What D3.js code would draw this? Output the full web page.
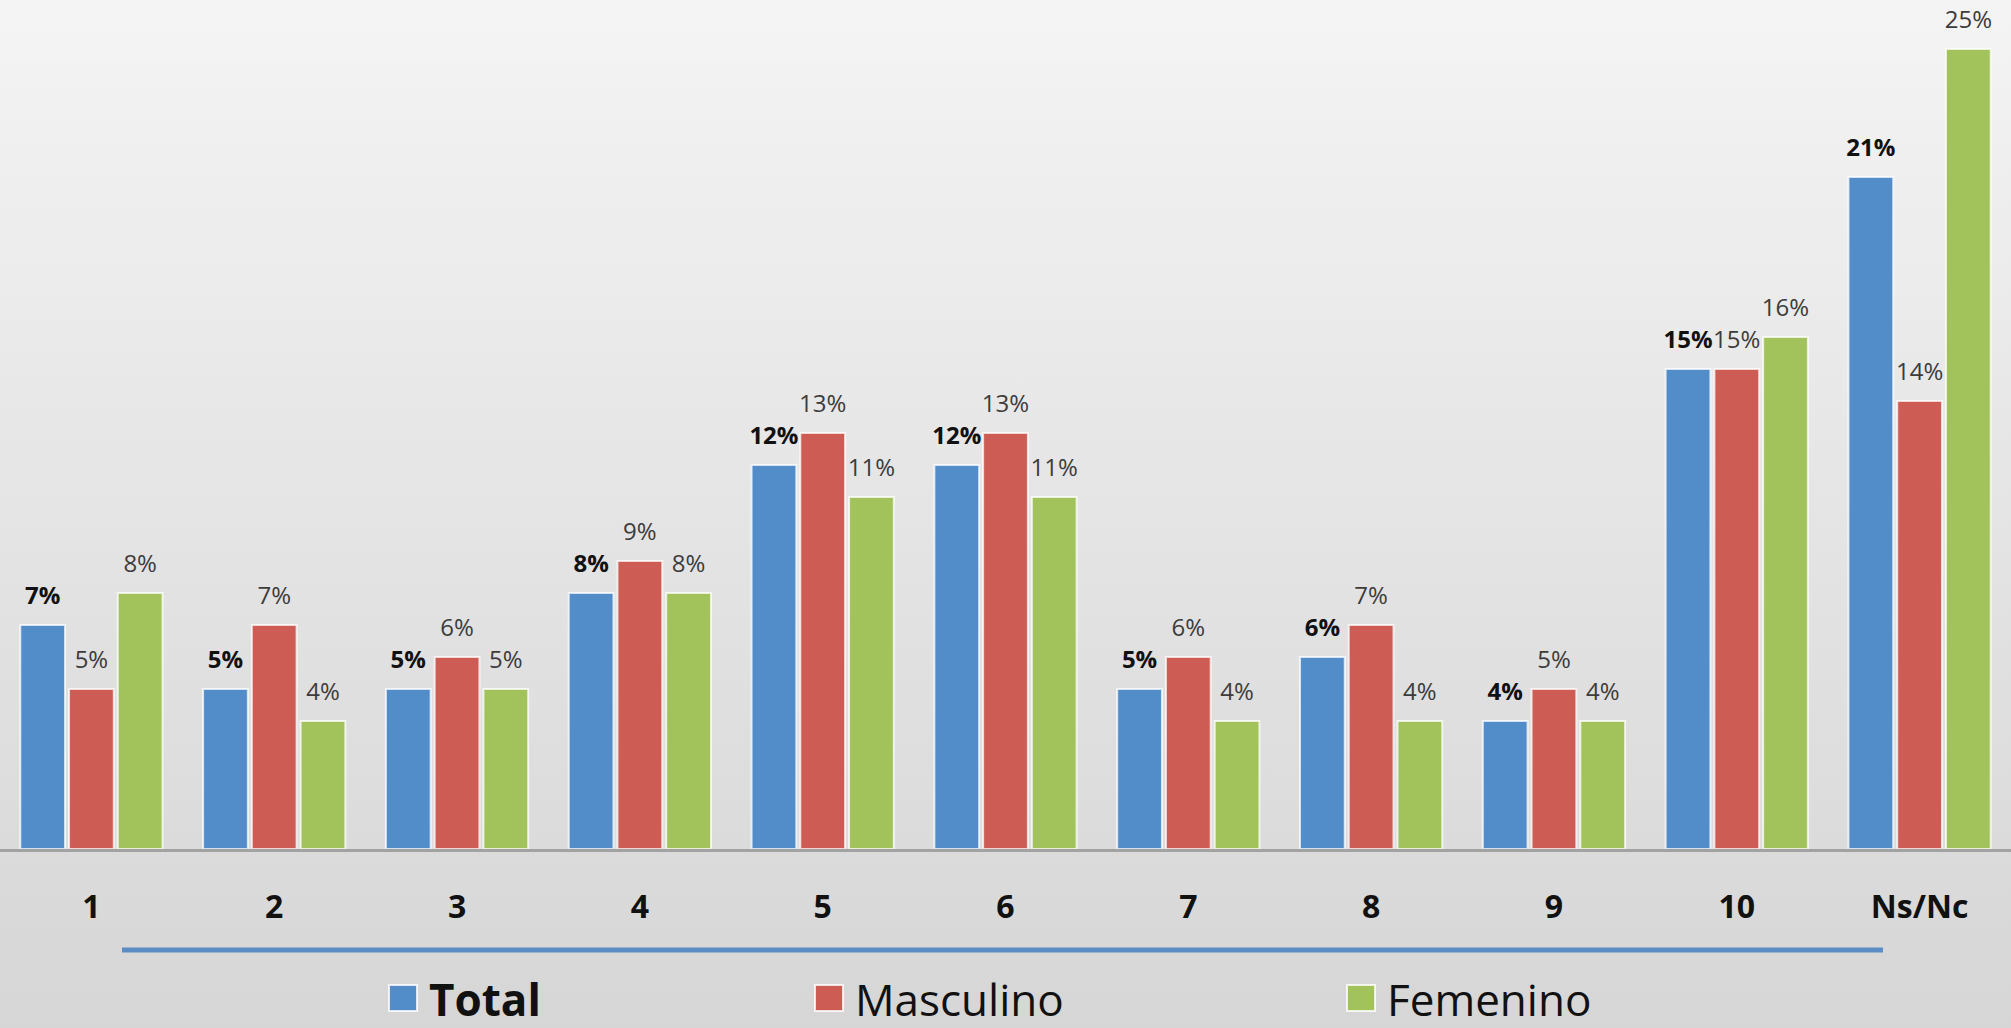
<!DOCTYPE html>
<html>
<head>
<meta charset="utf-8">
<script src="https://cdn.jsdelivr.net/npm/d3@7"></script>
<style>
html,body{margin:0;padding:0;overflow:hidden;background:#e4e4e4;}
svg{display:block;}
</style>
</head>
<body>
<script>
const categories = ["1","2","3","4","5","6","7","8","9","10","Ns/Nc"];
const seriesNames = ["Total","Masculino","Femenino"];
const totalValues = [7,5,5,8,12,12,5,6,4,15,21];
const masculinoValues = [5,7,6,9,13,13,6,7,5,15,14];
const femeninoValues = [8,4,5,8,11,11,4,4,4,16,25];
const seriesValues = [totalValues, masculinoValues, femeninoValues];
const colors = ["#528dca","#cd5c55","#a2c35c"];

const W = 2011, H = 1028;
const svg = d3.select("body").append("svg").attr("width", W).attr("height", H);

const defs = svg.append("defs");
const grad = defs.append("linearGradient").attr("id","bg").attr("x1",0).attr("y1",0).attr("x2",0).attr("y2",1);
grad.append("stop").attr("offset","0%").attr("stop-color","#f4f4f4");
grad.append("stop").attr("offset","55%").attr("stop-color","#e3e3e3");
grad.append("stop").attr("offset","100%").attr("stop-color","#d6d6d6");
svg.append("rect").attr("width",W).attr("height",H).attr("fill","url(#bg)");

const baseY = 849;
const x0 = d3.scaleBand().domain(categories).range([0, W]).paddingInner(0.2).paddingOuter(0.1);
const x1 = d3.scaleBand().domain(seriesNames).range([0, x0.bandwidth()]);
const y = d3.scaleLinear().domain([0, 25]).range([baseY, baseY - 800]);

const rows = categories.map((c, i) => ({cat: c, vals: seriesNames.map((s, j) => ({s, j, v: seriesValues[j][i]}))}));

const groups = svg.append("g").selectAll("g").data(rows).join("g")
  .attr("transform", d => `translate(${x0(d.cat)},0)`);

groups.selectAll("rect").data(d => d.vals).join("rect")
  .attr("x", d => x1(d.s) + 2)
  .attr("width", x1.bandwidth() - 4)
  .attr("y", d => y(d.v))
  .attr("height", d => baseY - y(d.v))
  .attr("fill", d => colors[d.j])
  .attr("stroke", "rgba(255,255,255,0.75)")
  .attr("stroke-width", 2);

groups.selectAll("text").data(d => d.vals).join("text")
  .attr("x", d => x1(d.s) + x1.bandwidth() / 2)
  .attr("y", d => y(d.v) - 21)
  .attr("text-anchor", "middle")
  .attr("font-family", "'Open Sans', sans-serif")
  .attr("font-size", 24)
  .attr("font-weight", d => d.j === 0 ? 700 : 400)
  .attr("fill", d => d.j === 0 ? "#111" : "#3c3c3c")
  .text(d => d.v + "%");

// category axis
const axis = svg.append("g").attr("transform", `translate(0,${baseY})`)
  .call(d3.axisBottom(x0).tickSize(0).tickPadding(46));
axis.select(".domain").attr("stroke", "#a2a2a2").attr("stroke-width", 3)
  .attr("d", `M0,1.5H${W}`);
axis.selectAll("text")
  .attr("font-family", "'Open Sans', sans-serif")
  .attr("font-size", 32)
  .attr("font-weight", 700)
  .attr("fill", "#111");

// legend separator line
svg.append("line").attr("x1", 122).attr("x2", 1883).attr("y1", 950).attr("y2", 950)
  .attr("stroke", "#5b8cc4").attr("stroke-width", 5);

// legend
const legendX = [389, 815, 1347];
const leg = svg.append("g").selectAll("g").data(seriesNames).join("g")
  .attr("transform", (d, i) => `translate(${legendX[i]},0)`);
leg.append("rect").attr("x", 0).attr("y", 985).attr("width", 28).attr("height", 26)
  .attr("fill", (d, i) => colors[i]).attr("stroke", "rgba(255,255,255,0.8)").attr("stroke-width", 2);
leg.append("text").attr("x", 40).attr("y", 1016)
  .attr("font-family", "'Open Sans', sans-serif")
  .attr("font-size", 44)
  .attr("font-weight", (d, i) => i === 0 ? 700 : 400)
  .attr("fill", "#111")
  .text(d => d);
</script>
</body>
</html>
